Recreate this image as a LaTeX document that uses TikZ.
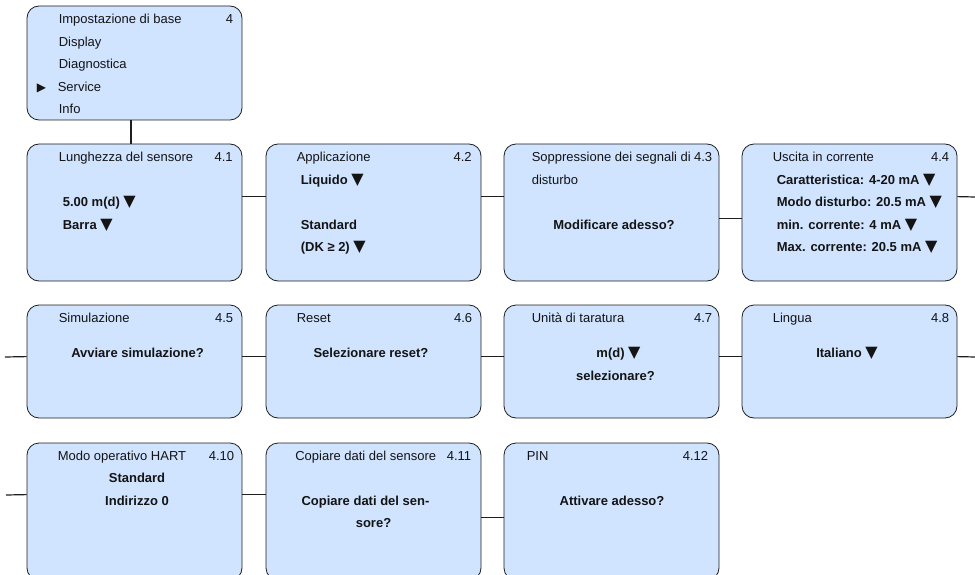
\documentclass[tikz,border=0pt]{standalone}
\usepackage{fontspec}
\setmainfont{Liberation Sans}[Scale=1.3]
\newfontfamily\symf{DejaVu Sans}
\usetikzlibrary{calc}
\definecolor{boxfill}{RGB}{208,227,255}
\definecolor{edgecol}{RGB}{30,30,30}
\definecolor{txtcol}{RGB}{20,20,20}
\newcommand\dn{{\symf\fontsize{16}{16}\selectfont ▼}}
\newcommand\rtri{{\symf\fontsize{12}{12}\selectfont ▶}}
\tikzset{
  box/.style={draw=edgecol, line width=0.8pt, fill=boxfill, rounded corners=12pt,
    minimum width=215pt, minimum height=#1, inner sep=0pt},
  box/.default=137pt,
  txt/.style={anchor=base west, inner sep=0pt, text=txtcol},
  btxt/.style={anchor=base west, inner sep=0pt, text=txtcol, font=\bfseries},
  num/.style={anchor=base east, inner sep=0pt, text=txtcol},
  ctxt/.style={anchor=base, inner sep=0pt, text=txtcol, font=\bfseries},
  link/.style={draw=edgecol, line width=1.2pt}
}
\begin{document}
\begin{tikzpicture}[x=1pt,y=-1pt]
\useasboundingbox (0,0) rectangle (975,575);
\clip (0,0) rectangle (975,575);
% boxes
\node[box=114pt] (top) at (134.5,63) {};
\node[box] (b41) at (134.5,212.5) {};
\node[box] (b42) at (373.5,212.5) {};
\node[box] (b43) at (611.5,212.5) {};
\node[box] (b44) at (849.5,212.5) {};
\node[box=113pt] (b45) at (134.5,361.5) {};
\node[box=113pt] (b46) at (373.5,361.5) {};
\node[box=113pt] (b47) at (611.5,361.5) {};
\node[box=113pt] (b48) at (849.5,361.5) {};
\node[box] (b410) at (134.5,511.5) {};
\node[box] (b411) at (373.5,511.5) {};
\node[box] (b412) at (611.5,511.5) {};
% connectors
\coordinate (r1) at (975,197);
\coordinate (l2) at (5,357);
\coordinate (r2) at (975,357);
\coordinate (l3) at (6,495);
\draw[link] ([xshift=-3.5pt]top.south) -- ([xshift=-3.5pt]b41.north);
\draw[link] ([yshift=-53pt]b41.north east) -- ([yshift=-53pt]b42.north west);
\draw[link] ([yshift=-53pt]b42.north east) -- ([yshift=-53pt]b43.north west);
\draw[link] ([yshift=-75pt]b43.north east) -- ([yshift=-75pt]b44.north west);
\draw[link] ([yshift=-53pt]b44.north east) -- (r1);
\draw[link] (l2) -- ([yshift=-52pt]b45.north west);
\draw[link] ([yshift=-52pt]b45.north east) -- ([yshift=-52pt]b46.north west);
\draw[link] ([yshift=-52pt]b46.north east) -- ([yshift=-52pt]b47.north west);
\draw[link] ([yshift=-52pt]b47.north east) -- ([yshift=-52pt]b48.north west);
\draw[link] ([yshift=-52pt]b48.north east) -- (r2);
\draw[link] (l3) -- ([yshift=-52pt]b410.north west);
\draw[link] ([yshift=-52pt]b410.north east) -- ([yshift=-52pt]b411.north west);
\draw[link] ([yshift=-75pt]b411.north east) -- ([yshift=-75pt]b412.north west);
% top box text
\path (top.north west) ++(32,18) node[txt] (t0a) {Impostazione di base};
\path (top.north east) ++(-9,18) node[num] (t0n) {4};
\path (top.north west) ++(32,40.6) node[txt] (t0b) {Display};
\path (top.north west) ++(32,63.2) node[txt] (t0c) {Diagnostica};
\path (top.north west) ++(10,85.8) node[txt] (t0t) {\rtri};
\path (top.north west) ++(31,85.8) node[txt] (t0d) {Service};
\path (top.north west) ++(32,108.4) node[txt] (t0e) {Info};
% 4.1
\path (b41.north west) ++(32,18) node[txt] (t41a) {Lunghezza del sensore};
\path (b41.north east) ++(-9.5,18) node[num] (t41n) {4.1};
\path (b41.north west) ++(36,63) node[btxt] (t41b) {5.00 m(d) \dn};
\path (b41.north west) ++(36,85.5) node[btxt] (t41c) {Barra \dn};
% 4.2
\path (b42.north west) ++(31,18) node[txt] (t42a) {Applicazione};
\path (b42.north east) ++(-9.5,18) node[num] (t42n) {4.2};
\path (b42.north west) ++(35,40.5) node[btxt] (t42b) {Liquido \dn};
\path (b42.north west) ++(35,85.5) node[btxt] (t42c) {Standard};
\path (b42.north west) ++(35,108) node[btxt] (t42d) {(DK ≥ 2) \dn};
% 4.3
\path (b43.north west) ++(28,18) node[txt] (t43a) {Soppressione dei segnali di};
\path (b43.north east) ++(-7,18) node[num] (t43n) {4.3};
\path (b43.north west) ++(28,40.5) node[txt] (t43b) {disturbo};
\path (b43.north) ++(2.5,85.5) node[ctxt] (t43c) {Modificare adesso?};
% 4.4
\path (b44.north west) ++(31,18) node[txt] (t44a) {Uscita in corrente};
\path (b44.north east) ++(-8,18) node[num] (t44n) {4.4};
\path (b44.north west) ++(35,40.5) node[btxt] (t44b) {Caratteristica: 4-20 mA \dn};
\path (b44.north west) ++(35,63) node[btxt] (t44c) {Modo disturbo: 20.5 mA \dn};
\path (b44.north west) ++(35,85.5) node[btxt] (t44d) {min. corrente: 4 mA \dn};
\path (b44.north west) ++(35,108) node[btxt] (t44e) {Max. corrente: 20.5 mA \dn};
% 4.5
\path (b45.north west) ++(32,17.5) node[txt] (t45a) {Simulazione};
\path (b45.north east) ++(-9,17.5) node[num] (t45n) {4.5};
\path (b45.north) ++(3,53) node[ctxt] (t45b) {Avviare simulazione?};
% 4.6
\path (b46.north west) ++(31,17.5) node[txt] (t46a) {Reset};
\path (b46.north east) ++(-9,17.5) node[num] (t46n) {4.6};
\path (b46.north) ++(-2.5,53) node[ctxt] (t46b) {Selezionare reset?};
% 4.7
\path (b47.north west) ++(28,17.5) node[txt] (t47a) {Unità di taratura};
\path (b47.north east) ++(-7,17.5) node[num] (t47n) {4.7};
\path (b47.north) ++(7,53) node[ctxt] (t47b) {m(d) \dn};
\path (b47.north) ++(4,75.5) node[ctxt] (t47c) {selezionare?};
% 4.8
\path (b48.north west) ++(31,17.5) node[txt] (t48a) {Lingua};
\path (b48.north east) ++(-8,17.5) node[num] (t48n) {4.8};
\path (b48.north) ++(-2.5,53) node[ctxt] (t48b) {Italiano \dn};
% 4.10
\path (b410.north west) ++(31,17.5) node[txt] (t410a) {Modo operativo HART};
\path (b410.north east) ++(-8,17.5) node[num] (t410n) {4.10};
\path (b410.north) ++(2.5,40) node[ctxt] (t410b) {Standard};
\path (b410.north) ++(2.5,62.5) node[ctxt] (t410c) {Indirizzo 0};
% 4.11
\path (b411.north west) ++(29.5,17.5) node[txt] (t411a) {Copiare dati del sensore};
\path (b411.north east) ++(-10,17.5) node[num] (t411n) {4.11};
\path (b411.north) ++(-8,62.5) node[ctxt] (t411b) {Copiare dati del sen-};
\path (b411.north) ++(0,85) node[ctxt] (t411c) {sore?};
% 4.12
\path (b412.north west) ++(23,17.5) node[txt] (t412a) {PIN};
\path (b412.north east) ++(-11,17.5) node[num] (t412n) {4.12};
\path (b412.north) ++(0.5,62.5) node[ctxt] (t412b) {Attivare adesso?};
\end{tikzpicture}
\end{document}
